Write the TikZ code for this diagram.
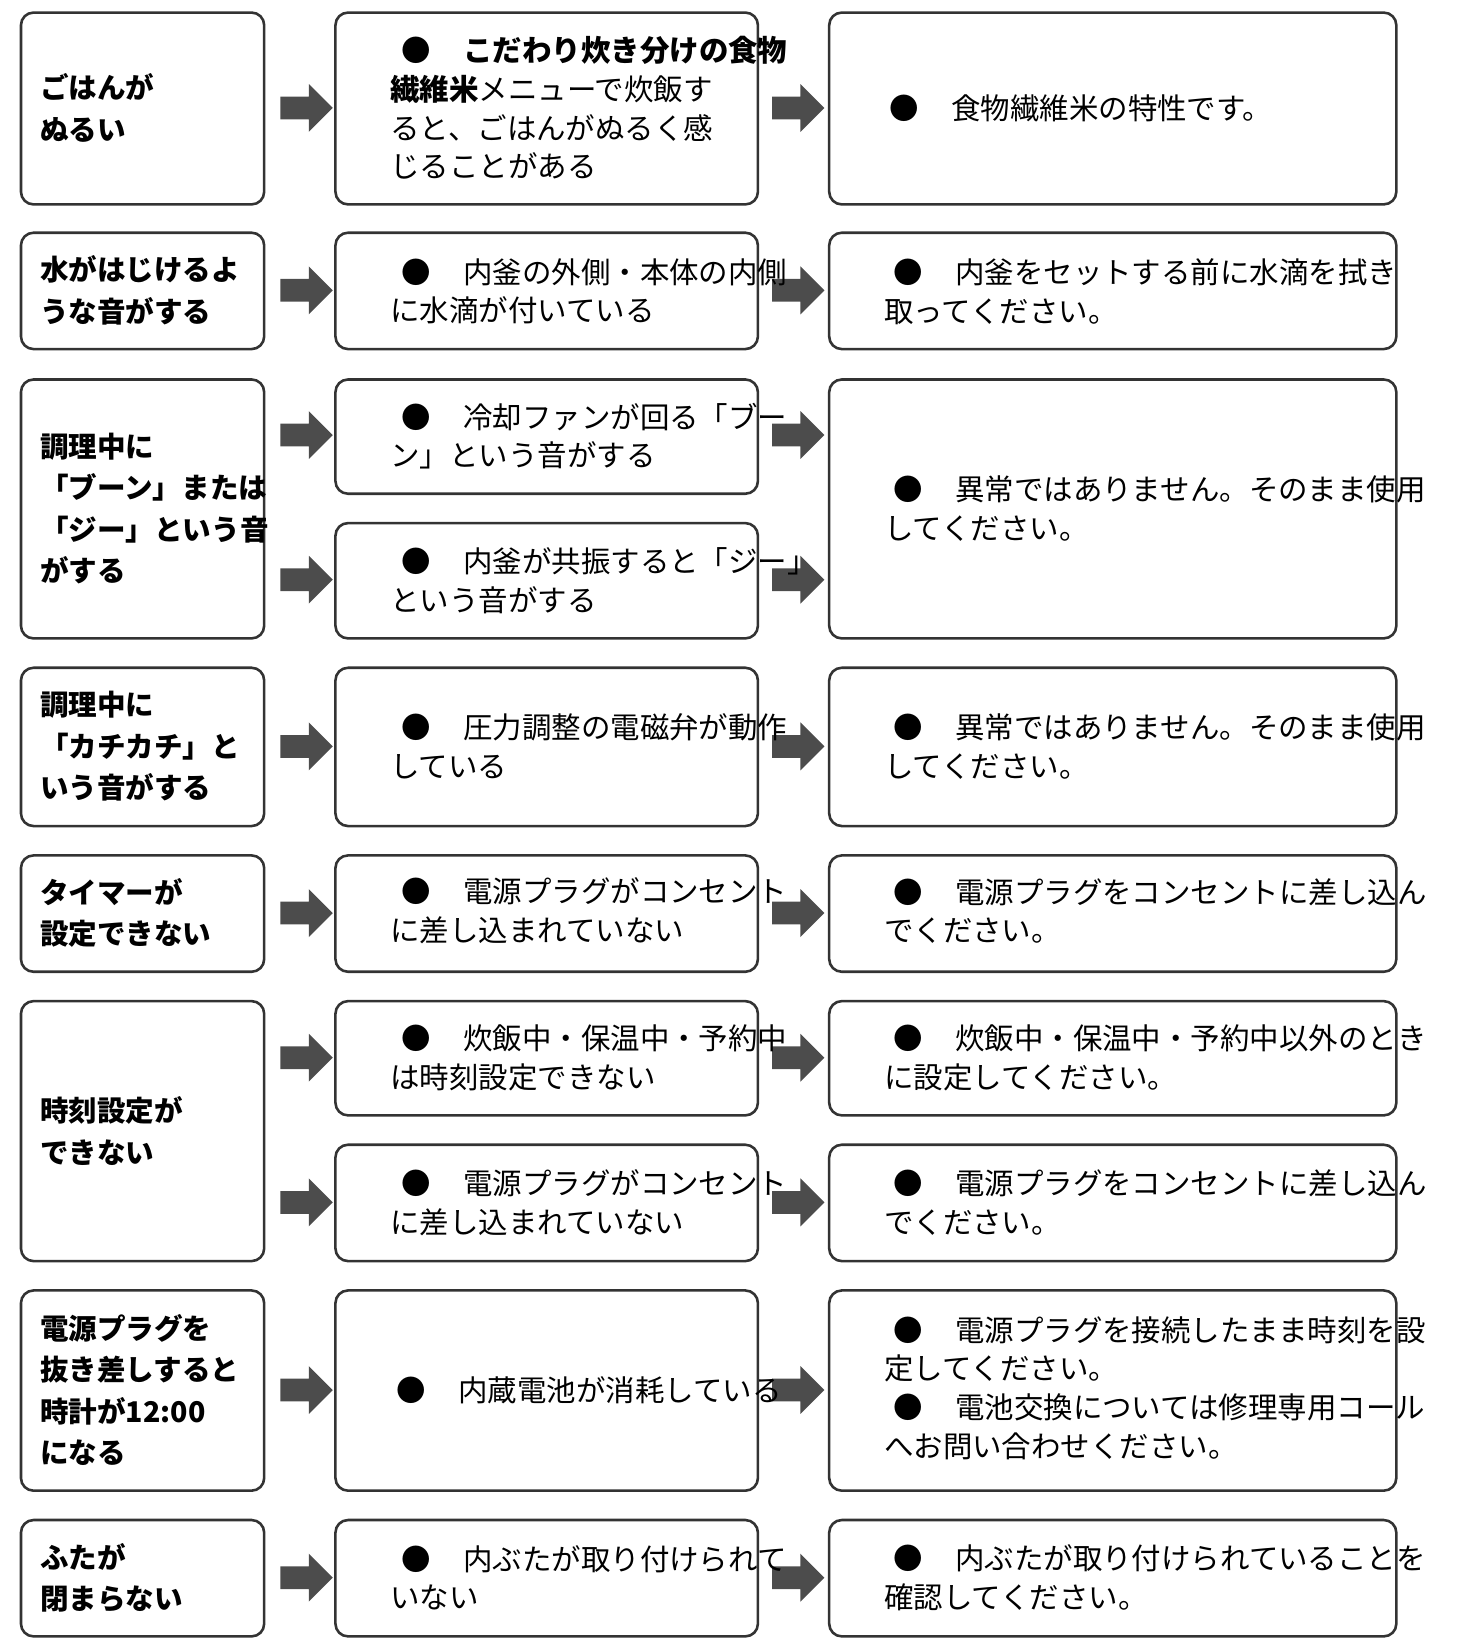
\documentclass[tikz,border=0pt]{standalone}
\usepackage{fontspec}
\setmainfont{Noto Sans CJK JP}
\usetikzlibrary{shapes.arrows}

\tikzset{
  box/.style={draw=black!80, line width=1.4pt, rounded corners=0.24cm},
  cause/.style={anchor=west, align=left, font=\fontsize{15.5}{22.5}\selectfont\bfseries, inner sep=0pt},
  txt/.style={anchor=west, align=left, font=\fontsize{16}{21}\selectfont, inner sep=0pt},
  blk/.style={single arrow, fill=black!70, draw=none, inner xsep=0pt, inner ysep=0.21cm,
    single arrow head extend=0.24cm, single arrow head indent=0pt, minimum height=1cm}
}
\newcommand{\pt}{●\hspace{1.1em}}

\begin{document}
\begin{tikzpicture}[x=0.02cm,y=-0.02cm]
\useasboundingbox (0,0) rectangle (1390,1574);

% boxes, column 1
\foreach \a/\b in {12/195,222/333,362/609,637/788,816/927,955/1203,1231/1422,1450/1561}
  \draw[box] (20,\a) rectangle (252,\b);
% boxes, column 2
\foreach \a/\b in {12/195,222/333,362/471,499/609,637/788,816/927,955/1064,1092/1203,1231/1422,1450/1561}
  \draw[box] (320,\a) rectangle (723,\b);
% boxes, column 3
\foreach \a/\b in {12/195,222/333,362/609,637/788,816/927,955/1064,1092/1203,1231/1422,1450/1561}
  \draw[box] (791,\a) rectangle (1332,\b);

% arrows
\foreach \y in {103,277,415,553,712,871,1009,1147,1326,1505} {
  \node[blk] (la\y) at (287,\y) {};
  \node[blk] (ra\y) at (756,\y) {};
}

% causes
\node[cause] (c1) at (38,103) {ごはんが\\ぬるい};
\node[cause] (c2) at (38,277) {水がはじけるよ\\うな音がする};
\node[cause] (c3) at (38,485) {調理中に\\「ブーン」または\\「ジー」という音\\がする};
\node[cause] (c4) at (38,712) {調理中に\\「カチカチ」と\\いう音がする};
\node[cause] (c5) at (38,871) {タイマーが\\設定できない};
\node[cause] (c6) at (38,1079) {時刻設定が\\できない};
\node[cause] (c7) at (38,1326) {電源プラグを\\抜き差しすると\\時計が12:00\\になる};
\node[cause] (c8) at (38,1505) {ふたが\\閉まらない};

% reasons
\node[txt] (r1) at (372,103) {\hspace{6pt}\pt\textbf{こだわり炊き分けの食物}\\\textbf{繊維米}メニューで炊飯す\\ると、ごはんがぬるく感\\じることがある};
\node[txt] (r2) at (372,278) {\hspace{6pt}\pt 内釜の外側・本体の内側\\に水滴が付いている};
\node[txt] (r3) at (372,416) {\hspace{6pt}\pt 冷却ファンが回る「ブー\\ン」という音がする};
\node[txt] (r4) at (372,554) {\hspace{6pt}\pt 内釜が共振すると「ジー」\\という音がする};
\node[txt] (r5) at (372,712) {\hspace{6pt}\pt 圧力調整の電磁弁が動作\\している};
\node[txt] (r6) at (372,869) {\hspace{6pt}\pt 電源プラグがコンセント\\に差し込まれていない};
\node[txt] (r7) at (372,1009) {\hspace{6pt}\pt 炊飯中・保温中・予約中\\は時刻設定できない};
\node[txt] (r8) at (372,1147) {\hspace{6pt}\pt 電源プラグがコンセント\\に差し込まれていない};
\node[txt] (r9) at (378,1326) {\pt 内蔵電池が消耗している};
\node[txt] (r10) at (372,1505) {\hspace{6pt}\pt 内ぶたが取り付けられて\\いない};

% remedies
\node[txt] (s1) at (848,103) {\pt 食物繊維米の特性です。};
\node[txt] (s2) at (843,278) {\hspace{5pt}\pt 内釜をセットする前に水滴を拭き\\取ってください。};
\node[txt] (s3) at (843,485) {\hspace{5pt}\pt 異常ではありません。そのまま使用\\してください。};
\node[txt] (s4) at (843,712) {\hspace{5pt}\pt 異常ではありません。そのまま使用\\してください。};
\node[txt] (s5) at (843,869) {\hspace{5pt}\pt 電源プラグをコンセントに差し込ん\\でください。};
\node[txt] (s6) at (843,1009) {\hspace{5pt}\pt 炊飯中・保温中・予約中以外のとき\\に設定してください。};
\node[txt] (s7) at (843,1147) {\hspace{5pt}\pt 電源プラグをコンセントに差し込ん\\でください。};
\node[txt] (s8) at (843,1324) {\hspace{5pt}\pt 電源プラグを接続したまま時刻を設\\定してください。\\\hspace{5pt}\pt 電池交換については修理専用コール\\へお問い合わせください。};
\node[txt] (s9) at (843,1505) {\hspace{5pt}\pt 内ぶたが取り付けられていることを\\確認してください。};
\end{tikzpicture}
\end{document}
